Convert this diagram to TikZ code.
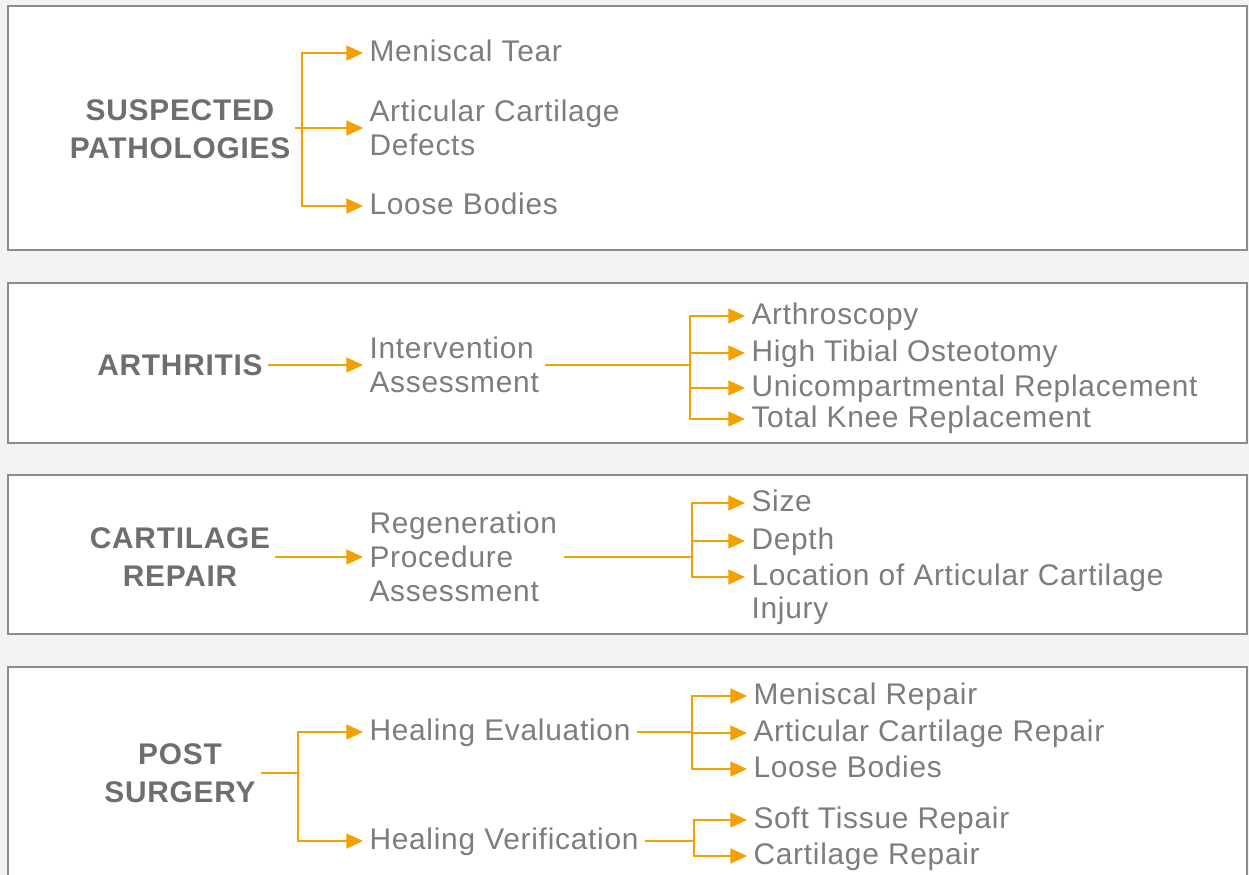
\documentclass[tikz,border=0pt]{standalone}
\usepackage{fontspec}
\setmainfont{Liberation Sans}[LetterSpace=2.5]
\usetikzlibrary{arrows.meta}
\definecolor{orng}{RGB}{242,161,0}
\definecolor{txtgray}{RGB}{125,125,125}
\definecolor{ttlgray}{RGB}{110,110,110}
\definecolor{rulegray}{RGB}{140,140,140}
\definecolor{bggray}{RGB}{243,243,243}
\tikzset{node distance=2cm, auto,
  panel/.style={draw=rulegray, line width=1.1pt, fill=white},
  ttl/.style={font=\fontsize{17}{21.5}\selectfont\bfseries, text=ttlgray, align=center, inner sep=0pt, outer sep=3pt},
  itm/.style={font=\fontsize{17}{19.4}\selectfont, text=txtgray, align=left, anchor=west, inner ysep=0pt, inner xsep=3.5pt},
  one/.style={itm, text height=12.6pt, text depth=3.4pt},
  lnk/.style={draw=orng, line width=1.1pt},
  arw/.style={lnk, -{Triangle[length=9.5pt,width=8.5pt]}}}

\begin{document}
\begin{tikzpicture}[x=0.02cm, y=-0.02cm]
  \fill[bggray] (0,0) rectangle (1249,875);
  \useasboundingbox (0,0) rectangle (1249,875);
  \path[panel] (8,6) rectangle (1247,250);
  \path[panel] (8,283) rectangle (1247,443);
  \path[panel] (8,475) rectangle (1247,634);
  \path[panel] (8,667) rectangle (1247,890);

  % suspected pathologies
  \node[ttl] (SP) at (180,129) {SUSPECTED\\PATHOLOGIES};
  \node[one] (MT) at (363,53) {Meniscal Tear};
  \node[itm] (AD) at (363,128) {Articular Cartilage\\Defects};
  \node[one] (LB) at (363,206) {Loose Bodies};
  \coordinate (J1) at (302,128);
  \draw[lnk] (SP.east |- J1) -- (J1);
  \draw[arw] (J1) |- (MT);
  \draw[arw] (J1) -- (AD);
  \draw[arw] (J1) |- (LB);

  % arthritis
  \node[ttl] (AR) at (180,365) {ARTHRITIS};
  \node[itm] (IA) at (363,365) {Intervention\\Assessment};
  \node[one] (AS) at (745,316) {Arthroscopy};
  \node[one] (HT) at (745,353) {High Tibial Osteotomy};
  \node[one] (UR) at (745,388) {Unicompartmental Replacement};
  \node[one] (TK) at (745,419) {Total Knee Replacement};
  \coordinate (J2) at (690,365);
  \draw[arw] (AR) -- (IA);
  \draw[lnk] (IA) -- (J2);
  \draw[arw] (J2) |- (AS);
  \draw[arw] (J2) |- (HT);
  \draw[arw] (J2) |- (UR);
  \draw[arw] (J2) |- (TK);

  % cartilage repair
  \node[ttl] (CR) at (180,557) {CARTILAGE\\REPAIR};
  \node[itm] (RP) at (363,557) {Regeneration\\Procedure\\Assessment};
  \node[one] (SZ) at (745,503) {Size};
  \node[one] (DP) at (745,541) {Depth};
  \node[one] (LC) at (745,577) {Location of Articular Cartilage};
  \node[one] (IJ) at (745,610) {Injury};
  \coordinate (J3) at (692,557);
  \draw[arw] (CR) -- (RP);
  \draw[lnk] (RP) -- (J3);
  \draw[arw] (J3) |- (SZ);
  \draw[arw] (J3) |- (DP);
  \draw[arw] (J3) |- (LC);

  % post surgery
  \node[ttl] (PS) at (180,773) {POST\\SURGERY};
  \node[one] (HE) at (363,732) {Healing Evaluation};
  \node[one] (HV) at (363,841) {Healing Verification};
  \node[one] (MR) at (747,696) {Meniscal Repair};
  \node[one] (AC) at (747,733) {Articular Cartilage Repair};
  \node[one] (LO) at (747,769) {Loose Bodies};
  \node[one] (ST) at (747,820) {Soft Tissue Repair};
  \node[one] (CG) at (747,856) {Cartilage Repair};
  \coordinate (J4) at (298,773);
  \coordinate (J5) at (692,732);
  \coordinate (J6) at (694,841);
  \draw[lnk] (PS.east |- J4) -- (J4);
  \draw[arw] (J4) |- (HE);
  \draw[arw] (J4) |- (HV);
  \draw[lnk] (HE) -- (J5);
  \draw[arw] (J5) |- (MR);
  \draw[arw] (J5) |- (AC);
  \draw[arw] (J5) |- (LO);
  \draw[lnk] (HV) -- (J6);
  \draw[arw] (J6) |- (ST);
  \draw[arw] (J6) |- (CG);
\end{tikzpicture}
\end{document}
